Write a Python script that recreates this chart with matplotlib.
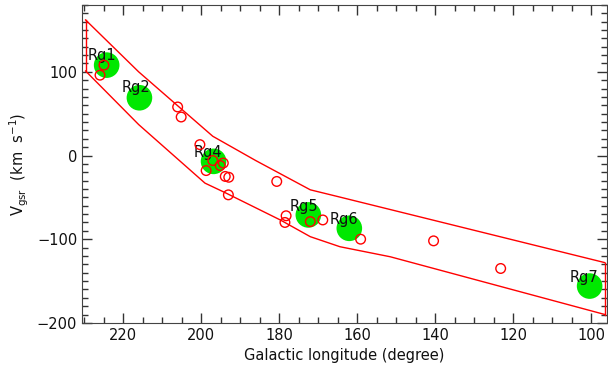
import matplotlib.pyplot as plt
from matplotlib.ticker import MultipleLocator

# Envelope of the stream (upper and lower edges), galactic longitude vs V_gsr
upper_l = [229.6, 216.0, 197.0, 186.0, 172.0, 165.0, 96.5]
upper_v = [162.0, 100.0, 23.0, -6.0, -41.0, -49.0, -128.0]
lower_l = [229.6, 216.0, 199.0, 194.0, 179.7, 172.0, 164.4, 151.5, 96.5]
lower_v = [101.0, 37.0, -33.0, -44.0, -77.0, -97.0, -109.0, -121.0, -190.0]

# Individual stars (open red circles)
star_l = [224.9, 225.9, 206.0, 205.1, 200.3, 197.0, 198.7, 195.1, 194.3,
          193.8, 192.9, 193.0, 180.6, 178.2, 178.5, 172.0, 168.8, 159.1,
          140.4, 123.2]
star_v = [108, 96, 58, 46, 13, -6, -18, -12, -9,
          -25, -26, -47, -31, -72, -80, -79, -77, -100,
          -102, -135]

# Group centres (filled green circles) and their labels
group_names = ["Rg1", "Rg2", "Rg4", "Rg5", "Rg6", "Rg7"]
group_l = [224.2, 215.8, 196.8, 172.5, 162.0, 100.4]
group_v = [108, 69, -7, -71, -87, -156]
label_l = [229.2, 220.3, 202.0, 177.2, 167.0, 105.4]
label_v = [119, 81, 3, -61, -77, -146]

plt.rcParams["font.family"] = ["DejaVu Sans"]
fig = plt.figure(figsize=(6.08, 3.75), dpi=100)
ax = fig.add_axes([0.135, 0.139, 0.863, 0.848])

# Envelope
ax.plot(upper_l, upper_v, color="red", lw=1.0, zorder=2)
ax.plot(lower_l, lower_v, color="red", lw=1.0, zorder=2)
ax.plot([upper_l[0], lower_l[0]], [upper_v[0], lower_v[0]], color="red", lw=1.0, zorder=2)
ax.plot([upper_l[-1], lower_l[-1]], [upper_v[-1], lower_v[-1]], color="red", lw=1.0, zorder=2)

# Groups
ax.scatter(group_l, group_v, s=340, color="#00e800", edgecolors="none", zorder=3)
for name, x, y in zip(group_names, label_l, label_v):
    ax.text(x, y, name, fontsize=10.5, color="#111111", ha="left", va="center", zorder=4)

# Stars
ax.scatter(star_l, star_v, s=48, facecolors="none", edgecolors="red", linewidths=1.0, zorder=5)

ax.set_xlim(230.5, 96)
ax.set_ylim(-200, 180)
ax.xaxis.set_major_locator(MultipleLocator(20))
ax.xaxis.set_minor_locator(MultipleLocator(5))
ax.yaxis.set_major_locator(MultipleLocator(100))
ax.yaxis.set_minor_locator(MultipleLocator(10))
ax.tick_params(which="both", direction="in", top=True, right=True, colors="#333333",
               labelcolor="#111111", labelsize=10.5)
ax.tick_params(which="major", length=7, width=1)
ax.tick_params(which="minor", length=4, width=1)
for side in ax.spines.values():
    side.set_color("#444444")

ax.set_xlabel("Galactic longitude (degree)", fontsize=10.5, color="#111111")
ax.set_ylabel("V$_{\\rm gsr}$  (km  s$^{-1}$)", fontsize=10.5, color="#111111")

fig.savefig("out.png", dpi=100)
